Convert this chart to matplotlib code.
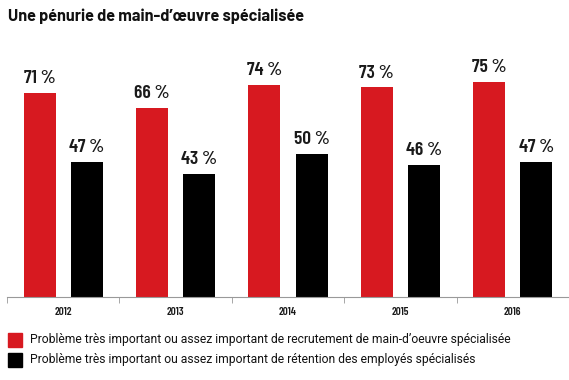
import matplotlib
matplotlib.use("Agg")
import matplotlib.pyplot as plt
from matplotlib.patches import Rectangle
from matplotlib import font_manager as fm
import numpy as np

years = ["2012", "2013", "2014", "2015", "2016"]
recrutement = [71, 66, 74, 73, 75]
retention = [47, 43, 50, 46, 47]
legend_labels = [
    "Problème très important ou assez important de recrutement de main-d’oeuvre spécialisée",
    "Problème très important ou assez important de rétention des employés spécialisés",
]
RED = "#d71920"
BLACK = "#000000"

available = {f.name for f in fm.fontManager.ttflist}


def pick(cands):
    for c in cands:
        if c in available:
            return [c, "DejaVu Sans"]
    return ["DejaVu Sans"]


cond = pick(["Barlow Condensed", "Roboto Condensed", "Barlow Semi Condensed", "Oswald", "Liberation Sans Narrow"])
title_font = pick(["Barlow", "Roboto", "Barlow Semi Condensed"])
body_font = pick(["Roboto", "Open Sans", "DejaVu Sans"])

W, H = 569, 380
fig = plt.figure(figsize=(W / 100, H / 100), dpi=100)
ax = fig.add_axes([7 / W, (H - 297) / H, 562 / W, 287 / H])

x = np.arange(len(years))
bw = 0.285
off = 0.21
b1 = ax.bar(x - off, recrutement, bw, color=RED)
b2 = ax.bar(x + off, retention, bw, color=BLACK)

for bars, vals in ((b1, recrutement), (b2, retention)):
    for r, v in zip(bars, vals):
        ax.text(r.get_x() + r.get_width() / 2, v + 2.0, f"{v} %", ha="center", va="bottom",
                fontsize=14, fontweight=600, family=cond, color="#1a1a1a")

ax.set_xlim(-0.5, len(years) - 0.5)
ax.set_ylim(0, 100)
ax.set_xticks(x)
ax.set_xticklabels(years, fontsize=8, fontweight=600, family=cond, color="#1a1a1a")
ax.tick_params(axis="x", length=0, pad=7)
ax.set_xticks(np.arange(len(years) + 1) - 0.5, minor=True)
ax.tick_params(axis="x", which="minor", length=4, color="#999999")
ax.set_yticks([])
for s in ["top", "right", "left"]:
    ax.spines[s].set_visible(False)
ax.spines["bottom"].set_color("#999999")
ax.spines["bottom"].set_linewidth(0.8)

fig.text(8 / W, 1 - 16 / H, "Une pénurie de main-d’œuvre spécialisée", fontsize=11.7,
         fontweight="bold", family=title_font, ha="left", va="center", color="#111111")

for i, (lab, col) in enumerate(zip(legend_labels, [RED, BLACK])):
    yc = 340 + i * 19.5
    fig.patches.append(Rectangle((8 / W, 1 - (yc + 7) / H), 14 / W, 14 / H,
                                 transform=fig.transFigure, color=col))
    fig.text(30 / W, 1 - yc / H, lab, fontsize=8.7, family=body_font,
             ha="left", va="center", color="#111111")

fig.savefig("out.png", dpi=100)
